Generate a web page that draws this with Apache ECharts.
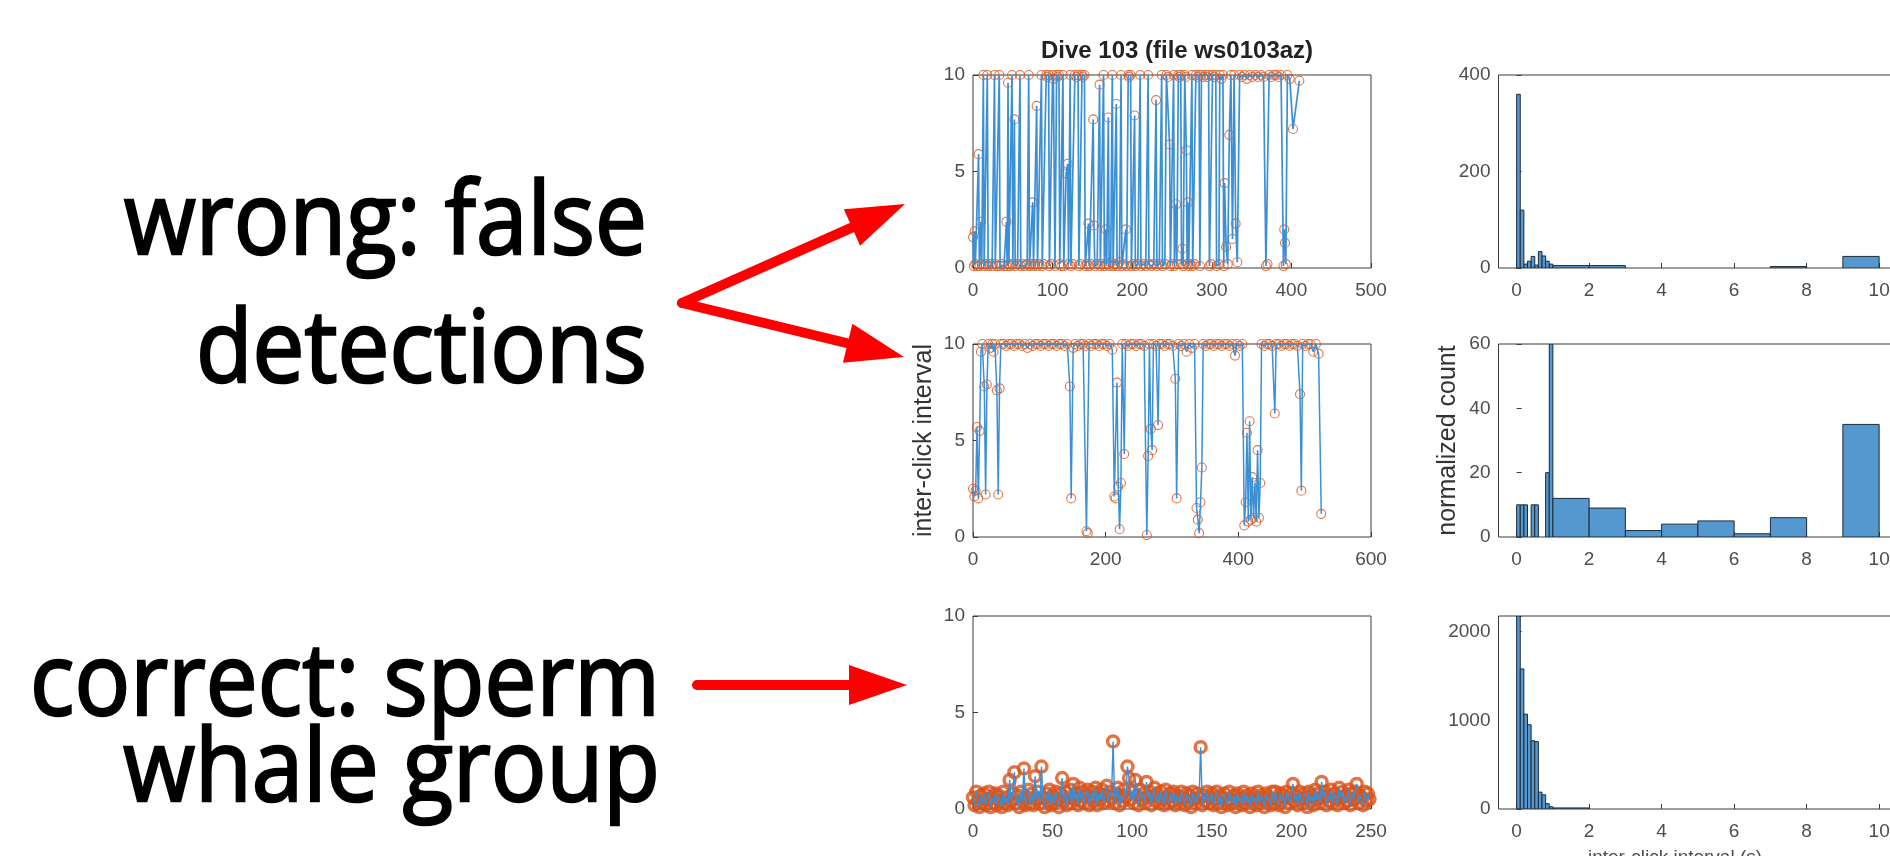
<!DOCTYPE html>
<html>
<head>
<meta charset="utf-8">
<script src="https://cdn.jsdelivr.net/npm/echarts@6/dist/echarts.min.js"></script>
<style>
html, body { margin: 0; padding: 0; background: #fff; overflow: hidden; }
/* the histograms run past the right edge of the slide, so the chart is a bit wider than the window */
#main { width: 1960px; height: 856px; }
</style>
</head>
<body>
<div id="main"></div>
<script>
// ---- data ----
// Dive 103, inter-click intervals, [click number, seconds]
var diveTop = [[0,1.6],[1,0.1],[2,1.9],[3,0.2],[5,0.1],[7,5.9],[8,0.1],[10,2.4],[11,0.2],[13,10],[14,0.1],[16,0.2],[18,10],[19,0.1],[21,0.2],[24,0.1],[27,10],[28,0.2],[30,0.1],[33,10],[34,0.1],[36,0.2],[39,0.1],[42,2.4],[43,0.1],[44,9.6],[45,0.2],[47,0.1],[49,10],[50,0.2],[52,7.7],[53,0.1],[56,0.2],[59,10],[60,0.1],[62,0.2],[65,0.1],[68,0.2],[70,10],[71,0.1],[73,0.2],[75,3.4],[76,0.1],[78,0.2],[80,8.4],[81,0.1],[83,0.2],[86,10],[87,0.1],[89,0.2],[92,10],[93,9.9],[95,10],[96,0.1],[98,0.2],[100,10],[101,9.8],[103,0.1],[105,10],[106,9.9],[108,10],[109,0.2],[111,0.1],[113,10],[114,0.1],[117,4.9],[119,5.4],[120,0.2],[122,10],[123,0.1],[125,0.2],[128,10],[130,9.9],[132,10],[133,0.1],[135,0.2],[137,10],[138,9.9],[140,10],[141,0.1],[143,0.2],[145,2.3],[146,0.1],[148,0.2],[151,7.7],[152,2.2],[153,0.1],[156,0.2],[159,9.5],[160,0.1],[162,0.2],[164,10],[165,0.1],[167,2.0],[168,0.2],[170,7.8],[171,0.1],[173,0.3],[175,10],[176,0.1],[178,0.2],[180,8.5],[181,0.1],[184,0.3],[186,10],[187,0.1],[189,0.2],[192,2.0],[193,0.1],[195,10],[196,9.9],[198,10],[199,0.1],[201,0.2],[203,7.9],[204,0.1],[207,0.2],[210,10],[211,0.1],[214,0.2],[217,0.1],[220,10],[221,0.2],[224,0.1],[227,0.2],[230,8.7],[231,0.1],[234,0.2],[237,10],[238,0.1],[241,0.2],[243,10],[245,9.9],[247,6.4],[248,0.1],[250,0.2],[252,10],[253,0.1],[255,3.3],[256,0.2],[258,10],[259,9.9],[261,10],[262,0.2],[263,1.0],[264,0.1],[266,10],[267,9.9],[268,6.1],[269,0.2],[270,3.4],[271,0.1],[273,0.2],[275,10],[276,0.1],[278,0.2],[280,10],[282,9.9],[284,10],[285,0.1],[287,10],[289,9.9],[292,10],[294,9.9],[296,10],[297,0.1],[299,0.2],[301,10],[303,9.9],[305,10],[306,0.1],[309,0.2],[310,10],[312,9.8],[314,10],[315,0.1],[316,4.4],[318,1.1],[320,0.2],[322,6.9],[324,10],[326,1.5],[328,10],[330,2.3],[332,0.3],[335,10],[338,9.9],[341,10],[344,9.8],[348,10],[351,9.9],[355,10],[358,9.9],[362,10],[365,9.9],[368,0.1],[370,0.2],[372,10],[375,9.9],[378,10],[381,10],[384,9.9],[387,10],[390,0.1],[391,2.0],[392,1.3],[393,0.2],[395,10],[398,9.8],[402,7.2],[410,9.7]];

var diveMid = [[0,2.5],[2,2.1],[4,2.4],[6,5.7],[8,2.0],[10,5.5],[12,9.6],[14,10],[17,7.8],[19,2.2],[21,7.9],[23,10],[26,9.8],[29,10],[31,9.6],[33,10],[36,7.6],[38,2.2],[40,7.7],[42,10],[46,10],[50,9.9],[54,10],[58,10],[62,9.9],[66,10],[70,10],[74,9.9],[78,10],[82,9.8],[86,10],[90,9.9],[94,10],[98,10],[102,9.9],[106,10],[110,10],[114,9.9],[118,10],[122,10],[126,9.9],[130,10],[134,10],[138,9.9],[142,10],[146,7.8],[148,2.0],[151,9.8],[154,10],[158,9.9],[162,10],[166,10],[169,9.9],[171,0.3],[173,0.2],[175,10],[178,9.9],[182,10],[186,10],[190,9.9],[194,10],[198,10],[202,9.9],[206,10],[210,9.7],[213,2.1],[215,2.0],[217,8.0],[219,2.6],[221,0.4],[223,2.8],[225,10],[228,4.3],[230,10],[234,9.9],[238,10],[242,10],[246,9.9],[250,10],[254,10],[258,9.9],[262,0.1],[264,4.2],[266,10],[268,5.6],[270,4.5],[272,10],[276,9.9],[279,5.8],[281,10],[285,10],[289,9.9],[293,10],[297,10],[301,9.9],[305,8.2],[307,2.0],[310,10],[314,9.9],[318,10],[322,9.6],[326,10],[330,9.8],[334,10],[337,1.5],[339,0.9],[341,0.2],[343,1.8],[345,3.6],[347,10],[351,9.9],[355,10],[359,10],[363,9.9],[367,10],[371,10],[375,9.9],[379,10],[383,10],[387,9.9],[391,10],[395,9.4],[398,10],[402,9.9],[406,10],[409,0.6],[411,1.8],[413,5.4],[415,0.8],[417,6.0],[419,0.9],[421,3.1],[423,1.0],[425,2.8],[427,0.8],[429,4.5],[431,1.0],[433,2.8],[435,10],[439,9.9],[443,10],[447,10],[451,9.9],[455,6.4],[457,10],[461,10],[465,9.9],[469,10],[473,10],[477,9.9],[481,10],[485,10],[489,9.9],[493,7.4],[495,2.4],[497,10],[501,9.9],[505,10],[509,10],[513,9.6],[517,10],[521,9.5],[525,1.2]];

// sperm whale group, one value per click number 0..249
var whaleIci = [
  0.6,0.2,0.9,0.4,0.1,0.7,0.3,0.8,0.2,0.5,0.9,0.1,0.6,0.3,0.8,0.2,0.7,0.4,0.1,0.9,0.3,0.6,0.2,1.5,0.4,
  0.8,1.9,0.3,0.7,0.1,0.9,0.4,2.1,0.2,0.6,1.0,0.3,0.8,0.2,1.7,0.5,0.9,0.3,2.2,0.6,0.1,0.8,0.4,1.0,0.2,
  0.7,0.3,0.9,0.5,0.1,0.8,1.6,0.4,0.9,0.2,0.6,1.0,0.3,1.3,0.5,0.8,0.2,1.1,0.4,0.9,0.3,0.7,1.0,0.2,0.6,
  0.9,0.4,1.1,0.2,0.8,0.5,1.0,0.3,0.7,1.2,0.4,0.9,0.6,3.5,0.3,0.8,1.1,0.2,0.7,0.4,1.0,0.6,2.2,1.6,0.5,
  0.9,0.3,1.5,0.7,0.2,1.0,0.5,0.8,0.3,1.4,0.6,0.9,0.2,0.7,1.1,0.4,0.8,0.3,0.9,0.5,0.2,1.0,0.6,0.3,0.8,
  0.4,0.9,0.2,0.7,0.5,0.3,0.9,0.6,0.2,0.8,0.4,0.7,0.1,0.9,0.5,0.3,0.8,0.6,3.2,0.2,0.7,0.4,0.9,0.3,0.6,
  0.8,0.2,0.5,0.9,0.3,0.7,0.1,0.6,0.8,0.4,0.2,0.9,0.5,0.3,0.7,0.1,0.8,0.4,0.6,0.2,0.9,0.3,0.7,0.5,0.1,
  0.8,0.4,0.6,0.2,0.9,0.3,0.7,0.5,0.1,0.8,0.4,0.6,0.2,0.9,0.3,0.9,0.5,0.2,0.8,0.4,0.7,0.1,0.9,0.6,0.3,
  0.8,1.3,0.4,0.7,0.2,0.9,0.5,0.3,0.8,0.6,0.1,0.9,0.4,0.7,0.2,1.0,0.5,0.8,0.3,1.4,0.6,0.9,0.2,0.7,0.4,
  1.0,0.3,0.8,0.5,0.2,1.1,0.6,0.9,0.3,0.7,0.4,1.0,0.2,0.8,0.5,0.9,1.3,0.3,0.7,0.6,0.2,0.9,0.4,0.8,0.5
];

// histograms: [bin start, bin end, count]
var histTop = [[0,0.1,360],[0.1,0.2,120],[0.2,0.3,8],[0.3,0.4,14],[0.4,0.5,24],[0.5,0.6,6],[0.6,0.7,34],[0.7,0.8,25],[0.8,0.9,14],[0.9,1,8],[1,2,5],[2,3,5],[7,8,3],[9,10,24]];
var histMid = [[0,0.1,10],[0.1,0.2,10],[0.2,0.3,10],[0.4,0.5,10],[0.5,0.6,10],[0.8,0.9,20],[0.9,1,60],[1,2,12],[2,3,9],[3,4,2],[4,5,4],[5,6,5],[6,7,1],[7,8,6],[9,10,35]];
var histBot = [[0,0.1,2177],[0.1,0.2,1580],[0.2,0.3,1070],[0.3,0.4,950],[0.4,0.5,770],[0.5,0.6,760],[0.6,0.7,190],[0.7,0.8,160],[0.8,0.9,60],[0.9,1,25],[1,2,12]];

var leftXMax = [500, 600, 250];
var leftXStep = [100, 200, 50];
var histYMax = [400, 60, 2177];
var histYStep = [200, 20, 1000];

var textLines = ['wrong: false', 'detections', 'correct: sperm', 'whale group'];

// ---- chart ----
var chartDom = document.getElementById('main');
var myChart = echarts.init(chartDom);

var rowTops = [75, 344, 616];
var rowH = 193;
var axisColor = '#3a3a3a';
var labelStyle = { color: '#4d4d4d', fontSize: 19, fontFamily: 'Liberation Sans' };

var grids = [], xAxes = [], yAxes = [], series = [];
var whalePts = whaleIci.map(function (v, i) { return [i, v]; });
var leftData = [diveTop, diveMid, whalePts];
var histData = [histTop, histMid, histBot];
var ringSize = [9, 9, 11];
var ringWidth = [1.1, 1.1, 3.5];
var traceWidth = [1.7, 1.5, 1.4];

rowTops.forEach(function (top) {
    grids.push({ left: 973, top: top, width: 398, height: rowH, show: true, borderColor: axisColor, borderWidth: 1 });
    grids.push({ left: 1498.5, top: top, width: 435, height: rowH, show: true, borderColor: axisColor, borderWidth: 1 });
});

for (var r = 0; r < 3; r++) {
    var gl = r * 2, gh = r * 2 + 1;
    xAxes.push({
        type: 'value', gridIndex: gl, min: 0, max: leftXMax[r], interval: leftXStep[r],
        axisLine: { show: false }, splitLine: { show: false },
        axisTick: { inside: true, length: 5, lineStyle: { color: axisColor } },
        axisLabel: Object.assign({ margin: 13 }, labelStyle)
    });
    yAxes.push({
        type: 'value', gridIndex: gl, min: 0, max: 10, interval: 5,
        axisLine: { show: false }, splitLine: { show: false },
        axisTick: { inside: true, length: 5, lineStyle: { color: axisColor } },
        axisLabel: Object.assign({ margin: 8 }, labelStyle),
        name: r === 1 ? 'inter-click interval' : '', nameLocation: 'middle', nameGap: 36,
        nameTextStyle: { color: '#333', fontSize: 25, fontFamily: 'Liberation Sans' }
    });
    xAxes.push({
        type: 'value', gridIndex: gh, min: -0.5, max: 11.5, splitNumber: 6,
        axisLine: { show: false }, splitLine: { show: false },
        axisTick: { inside: true, length: 5, lineStyle: { color: axisColor } },
        axisLabel: Object.assign({ margin: 13, formatter: function (v) { return (Math.abs(v % 2) < 1e-9) ? String(v) : ''; } }, labelStyle)
    });
    (function (step) {
        yAxes.push({
            type: 'value', gridIndex: gh, min: 0, max: histYMax[r], interval: step,
            axisLine: { show: false }, splitLine: { show: false },
            axisTick: { inside: true, length: 5, lineStyle: { color: axisColor } },
            axisLabel: Object.assign({ margin: 8, formatter: function (v) { return (v % step === 0) ? String(v) : ''; } }, labelStyle),
            name: r === 1 ? 'normalized count' : '', nameLocation: 'middle', nameGap: 38,
            nameTextStyle: { color: '#333', fontSize: 25, fontFamily: 'Liberation Sans' }
        });
    })(histYStep[r]);

    series.push({
        type: 'line', xAxisIndex: gl, yAxisIndex: gl, data: leftData[r],
        symbol: 'none', clip: true, animation: false,
        lineStyle: { color: '#3b8fd6', width: traceWidth[r] }
    });
    series.push({
        type: 'scatter', xAxisIndex: gl, yAxisIndex: gl, data: leftData[r],
        symbol: 'circle', symbolSize: ringSize[r], animation: false,
        itemStyle: { color: 'rgba(0,0,0,0)', borderColor: '#d95319', borderWidth: ringWidth[r] }
    });
    series.push({
        type: 'custom', xAxisIndex: gh, yAxisIndex: gh, data: histData[r],
        encode: { x: [0, 1], y: 2 }, clip: true, animation: false,
        renderItem: function (params, api) {
            var p0 = api.coord([api.value(0), api.value(2)]);
            var p1 = api.coord([api.value(1), 0]);
            return {
                type: 'rect',
                shape: { x: p0[0], y: p0[1], width: p1[0] - p0[0], height: p1[1] - p0[1] },
                style: { fill: '#5597cf', stroke: '#1e2a36', lineWidth: 1 }
            };
        }
    });
}

// slide text, squeezed to the width it takes in the picture
var ctx = document.createElement('canvas').getContext('2d');
var slideFont = '100px "Open Sans"';
ctx.font = slideFont;
var targetW = [527, 451, 633, 530];
var sx = 0;
textLines.forEach(function (t, i) { sx += targetW[i] / ctx.measureText(t).width; });
sx = sx / textLines.length;
var textRight = [647, 647, 660, 660];
var textMidY = [226, 354, 687, 773];

var graphics = textLines.map(function (t, i) {
    return {
        type: 'text', x: textRight[i], y: textMidY[i], scaleX: sx,
        style: { text: t, font: slideFont, fill: '#000', stroke: '#000', lineWidth: 2.5,
                 align: 'right', verticalAlign: 'middle' }
    };
});

function arrow(x1, y1, x2, y2) {
    var dx = x2 - x1, dy = y2 - y1, len = Math.sqrt(dx * dx + dy * dy);
    var ux = dx / len, uy = dy / len, hl = 58, hw = 20;
    var bx = x2 - ux * hl, by = y2 - uy * hl;
    return [
        { type: 'line', shape: { x1: x1, y1: y1, x2: bx + ux * 4, y2: by + uy * 4 },
          style: { stroke: '#f00', lineWidth: 10, lineCap: 'round' } },
        { type: 'polygon', shape: { points: [[x2, y2], [bx - uy * hw, by + ux * hw], [bx + uy * hw, by - ux * hw]] },
          style: { fill: '#f00' } }
    ];
}
graphics = graphics.concat(arrow(682, 303, 905, 204), arrow(682, 303, 904, 357), arrow(697, 685, 907, 685));

graphics.push({
    type: 'text', x: 1675, y: 848,
    style: { text: 'inter-click interval (s)', font: '19px "Liberation Sans"', fill: '#4d4d4d', align: 'center', verticalAlign: 'top' }
});

var option = {
    backgroundColor: '#fff',
    animation: false,
    title: {
        text: 'Dive 103 (file ws0103az)', left: 1172, top: 34, textAlign: 'center',
        textStyle: { fontSize: 24, fontWeight: 'bold', color: '#222', fontFamily: 'Liberation Sans' }
    },
    grid: grids,
    xAxis: xAxes,
    yAxis: yAxes,
    series: series,
    graphic: graphics
};

option && myChart.setOption(option);
</script>
</body>
</html>
